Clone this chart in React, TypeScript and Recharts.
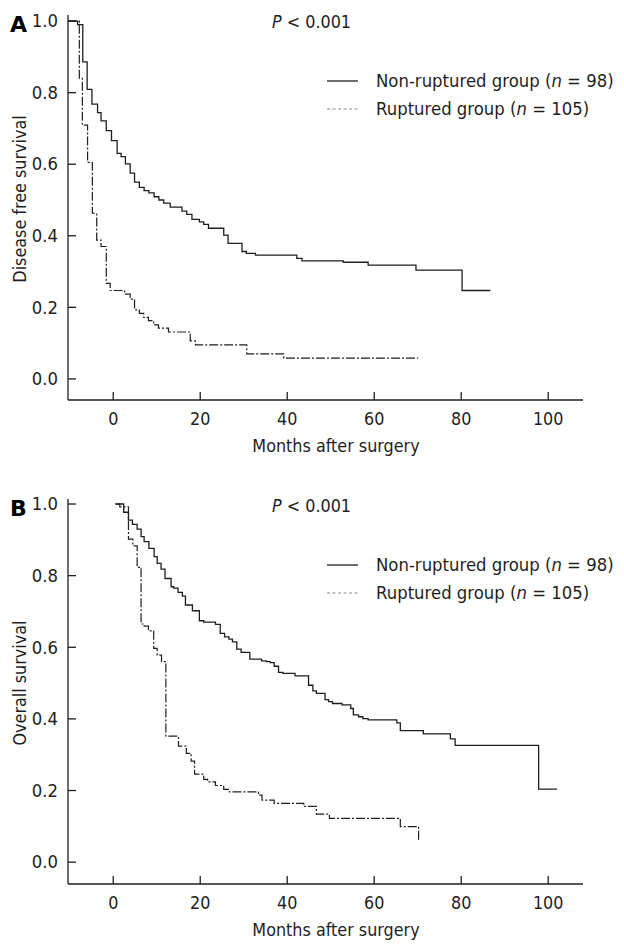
import { LineChart, Line, XAxis, YAxis } from "recharts";

const FONT = '"DejaVu Sans", Verdana, sans-serif';
const INK = "#1e1e1e";
const DASH = "9 2 2 2";

// panel A: disease free survival
const dfsNonTime = [-10.4, -8.2, -7.0, -6.0, -4.9, -3.6, -2.8, -1.6, -0.4, 0.9, 1.8, 2.8, 3.9, 4.9, 6.0, 7.1, 8.2, 9.4, 10.5, 11.6, 13.1, 15.8, 16.9, 18.1, 19.8, 20.8, 21.9, 25.4, 26.4, 29.6, 30.6, 32.7, 42.2, 43.4, 52.9, 58.6, 69.6, 80.2, 86.7];
const dfsNonSurv = [1.0, 0.99, 0.886, 0.809, 0.768, 0.744, 0.721, 0.694, 0.666, 0.63, 0.621, 0.601, 0.575, 0.55, 0.535, 0.526, 0.52, 0.509, 0.5, 0.491, 0.48, 0.469, 0.46, 0.446, 0.439, 0.432, 0.421, 0.402, 0.379, 0.356, 0.351, 0.346, 0.337, 0.33, 0.326, 0.318, 0.304, 0.247, 0.247];
const dfsRupTime = [-10.4, -7.8, -7.1, -5.9, -4.8, -3.8, -2.8, -1.6, -0.7, 2.6, 3.9, 4.9, 6.0, 7.0, 8.1, 9.3, 10.4, 12.7, 17.7, 18.9, 30.7, 39.2, 70.1];
const dfsRupSurv = [1.0, 0.84, 0.709, 0.605, 0.463, 0.388, 0.37, 0.267, 0.247, 0.237, 0.223, 0.193, 0.183, 0.172, 0.163, 0.151, 0.142, 0.131, 0.106, 0.095, 0.07, 0.058, 0.058];

// panel B: overall survival
const osNonTime = [0.5, 2.4, 3.5, 4.4, 5.5, 6.4, 7.1, 8.2, 9.4, 10.1, 11.0, 11.9, 13.3, 13.9, 14.9, 15.9, 16.6, 18.2, 19.8, 20.8, 23.5, 24.6, 25.6, 26.6, 27.4, 28.4, 29.4, 31.4, 34.1, 35.2, 36.1, 37.0, 38.0, 39.0, 41.8, 44.9, 45.9, 46.7, 48.7, 49.5, 50.4, 52.6, 54.6, 55.2, 56.4, 57.4, 58.6, 65.2, 66.0, 71.3, 77.5, 78.6, 97.8, 102.0];
const osNonSurv = [1.0, 0.977, 0.955, 0.943, 0.93, 0.909, 0.895, 0.876, 0.853, 0.834, 0.818, 0.792, 0.769, 0.765, 0.753, 0.743, 0.718, 0.702, 0.674, 0.67, 0.664, 0.639, 0.629, 0.623, 0.615, 0.595, 0.586, 0.567, 0.562, 0.56, 0.557, 0.547, 0.53, 0.527, 0.52, 0.494, 0.478, 0.471, 0.454, 0.448, 0.443, 0.439, 0.429, 0.411, 0.406, 0.401, 0.397, 0.389, 0.367, 0.358, 0.344, 0.326, 0.204, 0.204];
const osRupTime = [0.5, 1.5, 3.5, 4.5, 5.5, 6.4, 7.1, 8.1, 9.3, 10.1, 11.1, 12.1, 15.0, 16.8, 17.9, 18.7, 20.8, 21.7, 23.5, 25.4, 26.7, 33.4, 34.2, 37.0, 43.8, 46.7, 49.7, 66.0, 70.2];
const osRupSurv = [1.0, 0.992, 0.902, 0.883, 0.823, 0.665, 0.659, 0.646, 0.597, 0.578, 0.56, 0.352, 0.324, 0.304, 0.282, 0.246, 0.231, 0.224, 0.214, 0.203, 0.196, 0.187, 0.173, 0.164, 0.156, 0.134, 0.122, 0.099, 0.057];

const xTicks = [0, 20, 40, 60, 80, 100];
const yTicks = [0, 0.2, 0.4, 0.6, 0.8, 1.0];
const groupLabels = ["Non-ruptured group", "Ruptured group"];
const groupN = [98, 105];

const zip = (t: number[], s: number[]) => t.map((v, i) => ({ t: v, s: s[i] }));

function XTick(props: any) {
  const { x, y, payload } = props;
  return (
    <text
      transform={`translate(${x},${y + 19}) scale(1,1.1)`}
      textAnchor="middle"
      dominantBaseline="central"
      style={{ fontFamily: FONT, fontSize: 16, fill: INK }}
    >
      {payload.value}
    </text>
  );
}

function YTick(props: any) {
  const { x, y, payload } = props;
  return (
    <text
      transform={`translate(${x - 10},${y}) scale(1,1.1)`}
      textAnchor="end"
      dominantBaseline="central"
      style={{ fontFamily: FONT, fontSize: 16.5, fill: INK }}
    >
      {Number(payload.value).toFixed(1)}
    </text>
  );
}

const txt: React.CSSProperties = {
  position: "absolute",
  fontFamily: FONT,
  fontSize: 16,
  lineHeight: "20px",
  color: INK,
  whiteSpace: "nowrap",
  transform: "scaleY(1.1)",
};

function Panel({
  top,
  letter,
  yTitle,
  yDomain,
  marginTop,
  non,
  rup,
}: {
  top: number;
  letter: string;
  yTitle: string;
  yDomain: [number, number];
  marginTop: number;
  non: { t: number; s: number }[];
  rup: { t: number; s: number }[];
}) {
  // plot area spans 385px vertically, 68..583 horizontally
  const plotTop = top + marginTop;
  const plotBottom = plotTop + 385;
  const plotMid = (plotTop + plotBottom) / 2;
  return (
    <>
      <div style={{ position: "absolute", left: 0, top }}>
        <LineChart
          width={624}
          height={474}
          margin={{ top: marginTop, right: 41, left: 8, bottom: 474 - marginTop - 385 - 40 }}
        >
          <XAxis
            type="number"
            dataKey="t"
            domain={[-10.4, 108]}
            allowDataOverflow
            ticks={xTicks}
            tickSize={-8}
            tickMargin={8}
            height={40}
            tick={<XTick />}
            axisLine={{ stroke: INK, strokeWidth: 1.3 }}
            tickLine={{ stroke: INK, strokeWidth: 1.3 }}
          />
          <YAxis
            type="number"
            dataKey="s"
            domain={yDomain}
            allowDataOverflow
            ticks={yTicks}
            tickSize={-8}
            tickMargin={8}
            width={60}
            tick={<YTick />}
            axisLine={{ stroke: INK, strokeWidth: 1.3 }}
            tickLine={{ stroke: INK, strokeWidth: 1.3 }}
          />
          <Line
            data={rup}
            dataKey="s"
            type="stepAfter"
            stroke={INK}
            strokeWidth={1.2}
            strokeDasharray={DASH}
            dot={false}
            isAnimationActive={false}
          />
          <Line
            data={non}
            dataKey="s"
            type="stepAfter"
            stroke={INK}
            strokeWidth={1.3}
            dot={false}
            isAnimationActive={false}
          />
        </LineChart>
      </div>

      <div
        style={{
          ...txt,
          left: 10,
          top: plotTop - 3,
          fontSize: 22,
          lineHeight: "26px",
          fontWeight: "bold",
          transform: "none",
          color: "#000",
        }}
      >
        {letter}
      </div>
      <div style={{ ...txt, left: 272, top: plotTop - 3 }}>
        <i>P</i> &lt; 0.001
      </div>

      {groupLabels.map((g, i) => {
        const cy = plotTop + 66 + i * 28;
        return (
          <div key={g}>
            <svg
              width={32}
              height={4}
              style={{ position: "absolute", left: 327, top: cy - 2 }}
            >
              <line
                x1={0}
                x2={31}
                y1={2}
                y2={2}
                stroke={i === 0 ? INK : "#8a8a8a"}
                strokeWidth={i === 0 ? 1.3 : 1}
                strokeDasharray={i === 0 ? undefined : "3 2.5"}
              />
            </svg>
            <div style={{ ...txt, left: 376, top: cy - 10, fontSize: 16.5 }}>
              {g} (<i>n</i> = {groupN[i]})
            </div>
          </div>
        );
      })}

      <div
        style={{
          ...txt,
          left: 20,
          top: plotMid - 9 - 10,
          transform: "translateX(-50%) rotate(-90deg) scaleY(1.1)",
          transformOrigin: "50% 50%",
        }}
      >
        {yTitle}
      </div>
      <div
        style={{
          ...txt,
          left: 336,
          top: plotBottom + 46 - 10,
          transform: "translateX(-50%) scaleY(1.1)",
        }}
      >
        Months after surgery
      </div>
    </>
  );
}

export default function App() {
  return (
    <div
      style={{
        position: "absolute",
        left: 0,
        top: 0,
        width: 624,
        height: 948,
        background: "#fff",
        overflow: "hidden",
      }}
    >
      <Panel
        top={0}
        letter="A"
        yTitle="Disease free survival"
        yDomain={[-0.059, 1.017]}
        marginTop={15}
        non={zip(dfsNonTime, dfsNonSurv)}
        rup={zip(dfsRupTime, dfsRupSurv)}
      />
      <Panel
        top={474}
        letter="B"
        yTitle="Overall survival"
        yDomain={[-0.061, 1.014]}
        marginTop={25}
        non={zip(osNonTime, osNonSurv)}
        rup={zip(osRupTime, osRupSurv)}
      />
    </div>
  );
}
